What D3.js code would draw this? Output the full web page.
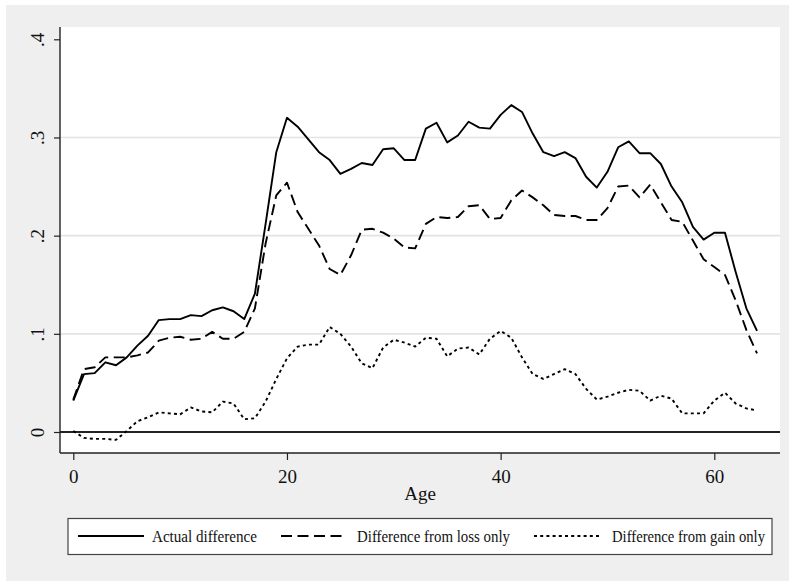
<!DOCTYPE html>
<html>
<head>
<meta charset="utf-8">
<script src="https://cdn.jsdelivr.net/npm/d3@7"></script>
<style>
  html, body { margin: 0; padding: 0; background: #ffffff; }
  svg { display: block; }
  text { font-family: "Liberation Serif", "Times New Roman", serif; fill: #111; }
</style>
</head>
<body>
<div id="chart"></div>
<script>
// Ages 0..64
const ages = d3.range(0, 65);

// Actual difference
const actualDiff = [
  0.032, 0.059, 0.060, 0.071, 0.068, 0.076, 0.088, 0.098, 0.114, 0.115,
  0.115, 0.119, 0.118, 0.124, 0.127, 0.123, 0.115, 0.141, 0.212, 0.285,
  0.320, 0.311, 0.298, 0.285, 0.277, 0.263, 0.268, 0.274, 0.272, 0.288,
  0.289, 0.277, 0.277, 0.309, 0.315, 0.295, 0.302, 0.316, 0.310, 0.309,
  0.323, 0.333, 0.326, 0.304, 0.285, 0.281, 0.285, 0.279, 0.260, 0.249,
  0.265, 0.290, 0.296, 0.284, 0.284, 0.273, 0.250, 0.234, 0.209, 0.196,
  0.203, 0.203, 0.163, 0.126, 0.103
];

// Difference from loss only
const lossOnly = [
  0.033, 0.064, 0.066, 0.076, 0.076, 0.076, 0.078, 0.081, 0.093, 0.096,
  0.097, 0.094, 0.095, 0.102, 0.095, 0.095, 0.102, 0.126, 0.192, 0.241,
  0.254, 0.224, 0.207, 0.190, 0.166, 0.160, 0.180, 0.206, 0.207, 0.203,
  0.197, 0.188, 0.187, 0.212, 0.219, 0.218, 0.219, 0.230, 0.231, 0.217,
  0.218, 0.236, 0.246, 0.239, 0.231, 0.221, 0.220, 0.220, 0.216, 0.216,
  0.228, 0.250, 0.251, 0.239, 0.252, 0.234, 0.216, 0.214, 0.195, 0.176,
  0.168, 0.160, 0.134, 0.104, 0.080
];

// Difference from gain only
const gainOnly = [
  0.001, -0.006, -0.007, -0.007, -0.008, 0.001, 0.011, 0.015, 0.020, 0.019,
  0.018, 0.025, 0.021, 0.020, 0.031, 0.029, 0.013, 0.014, 0.031, 0.054,
  0.075, 0.087, 0.089, 0.089, 0.107, 0.100, 0.087, 0.070, 0.065, 0.086,
  0.094, 0.091, 0.087, 0.096, 0.095, 0.077, 0.085, 0.086, 0.079, 0.095,
  0.103, 0.096, 0.076, 0.059, 0.054, 0.059, 0.064, 0.059, 0.044, 0.033,
  0.036, 0.040, 0.043, 0.042, 0.032, 0.037, 0.034, 0.019, 0.019, 0.019,
  0.032, 0.040, 0.029, 0.024, 0.022
];

const xTicks = [0, 20, 40, 60];
const yTicks = [0, 0.1, 0.2, 0.3, 0.4];
const yTickLabels = ["0", ".1", ".2", ".3", ".4"];
const xTitle = "Age";
const seriesNames = ["Actual difference", "Difference from loss only", "Difference from gain only"];

const W = 789, H = 581;
const plot = { left: 60, right: 780, top: 27, bottom: 453 };

const svg = d3.select("#chart").append("svg")
  .attr("width", W).attr("height", H);

// graph region background
svg.append("rect").attr("x", 6).attr("y", 5).attr("width", W - 6).attr("height", H - 5)
  .attr("fill", "#efefef");
// plot region
svg.append("rect").attr("x", plot.left).attr("y", plot.top)
  .attr("width", plot.right - plot.left).attr("height", plot.bottom - plot.top)
  .attr("fill", "#ffffff");

const x = d3.scaleLinear().domain([0, 60]).range([73.3, 714.3]);
const y = d3.scaleLinear().domain([0, 0.4]).range([432, 39.3]);

// horizontal grid
svg.append("g").selectAll("line")
  .data(yTicks.filter(v => v > 0 && v < 0.4))
  .join("line")
  .attr("x1", plot.left).attr("x2", plot.right)
  .attr("y1", d => y(d)).attr("y2", d => y(d))
  .attr("stroke", "#e3e3e3").attr("stroke-width", 1.6);

// y axis
const yAxis = d3.axisLeft(y).tickValues(yTicks).tickSize(6)
  .tickFormat((d, i) => yTickLabels[i]);
const gy = svg.append("g").attr("transform", `translate(${plot.left},0)`).call(yAxis);
gy.select(".domain").remove();
gy.selectAll(".tick line").attr("stroke", "#222").attr("stroke-width", 1.2);
gy.selectAll(".tick text")
  .attr("x", 0).attr("dy", null).attr("y", 0)
  .attr("text-anchor", "middle")
  .attr("transform", "translate(-16,0) rotate(-90)")
  .style("font-family", '"Liberation Serif", "Times New Roman", serif')
  .style("font-size", "19px").attr("fill", "#111");
svg.append("line").attr("x1", plot.left).attr("x2", plot.left)
  .attr("y1", plot.top).attr("y2", plot.bottom)
  .attr("stroke", "#222").attr("stroke-width", 1.4);

// x axis
const xAxis = d3.axisBottom(x).tickValues(xTicks).tickSize(7).tickFormat(d3.format("d"));
const gx = svg.append("g").attr("transform", `translate(0,${plot.bottom})`).call(xAxis);
gx.select(".domain").remove();
gx.selectAll(".tick line").attr("stroke", "#222").attr("stroke-width", 1.2);
gx.selectAll(".tick text")
  .attr("y", 30).attr("dy", null)
  .style("font-family", '"Liberation Serif", "Times New Roman", serif')
  .style("font-size", "19px").attr("fill", "#111");
svg.append("line").attr("x1", plot.left).attr("x2", plot.right)
  .attr("y1", plot.bottom).attr("y2", plot.bottom)
  .attr("stroke", "#222").attr("stroke-width", 1.4);

svg.append("text").attr("x", (plot.left + plot.right) / 2).attr("y", 500)
  .attr("text-anchor", "middle").style("font-size", "19px").text(xTitle);

// zero reference line
svg.append("line").attr("x1", plot.left).attr("x2", plot.right)
  .attr("y1", y(0)).attr("y2", y(0))
  .attr("stroke", "#222").attr("stroke-width", 1.8);

// series
const styles = [
  { dash: null },
  { dash: "11,5.5" },
  { dash: "3,3.2" }
];
const seriesData = [actualDiff, lossOnly, gainOnly];
const line = d3.line().x((d, i) => x(ages[i])).y(d => y(d));

svg.append("g").selectAll("path")
  .data(seriesData)
  .join("path")
  .attr("d", d => line(d))
  .attr("fill", "none")
  .attr("stroke", "#000")
  .attr("stroke-width", 1.9)
  .attr("stroke-linejoin", "round")
  .attr("stroke-dasharray", (d, i) => styles[i].dash);

// legend
const lg = svg.append("g");
lg.append("rect").attr("x", 68).attr("y", 518.5).attr("width", 704).attr("height", 36)
  .attr("fill", "#fff").attr("stroke", "#444").attr("stroke-width", 1.2);
const legendItems = [
  { x1: 78, x2: 144, tx: 152, tw: 105 },
  { x1: 281, x2: 345, tx: 357, tw: 153 },
  { x1: 534, x2: 602, tx: 612, tw: 153 }
];
legendItems.forEach((it, i) => {
  lg.append("line").attr("x1", it.x1).attr("x2", it.x2).attr("y1", 536).attr("y2", 536)
    .attr("stroke", "#000").attr("stroke-width", 1.9)
    .attr("stroke-dasharray", styles[i].dash);
  lg.append("text").attr("x", it.tx).attr("y", 542)
    .style("font-size", "16.5px")
    .attr("textLength", it.tw).attr("lengthAdjust", "spacingAndGlyphs")
    .text(seriesNames[i]);
});
</script>
</body>
</html>
